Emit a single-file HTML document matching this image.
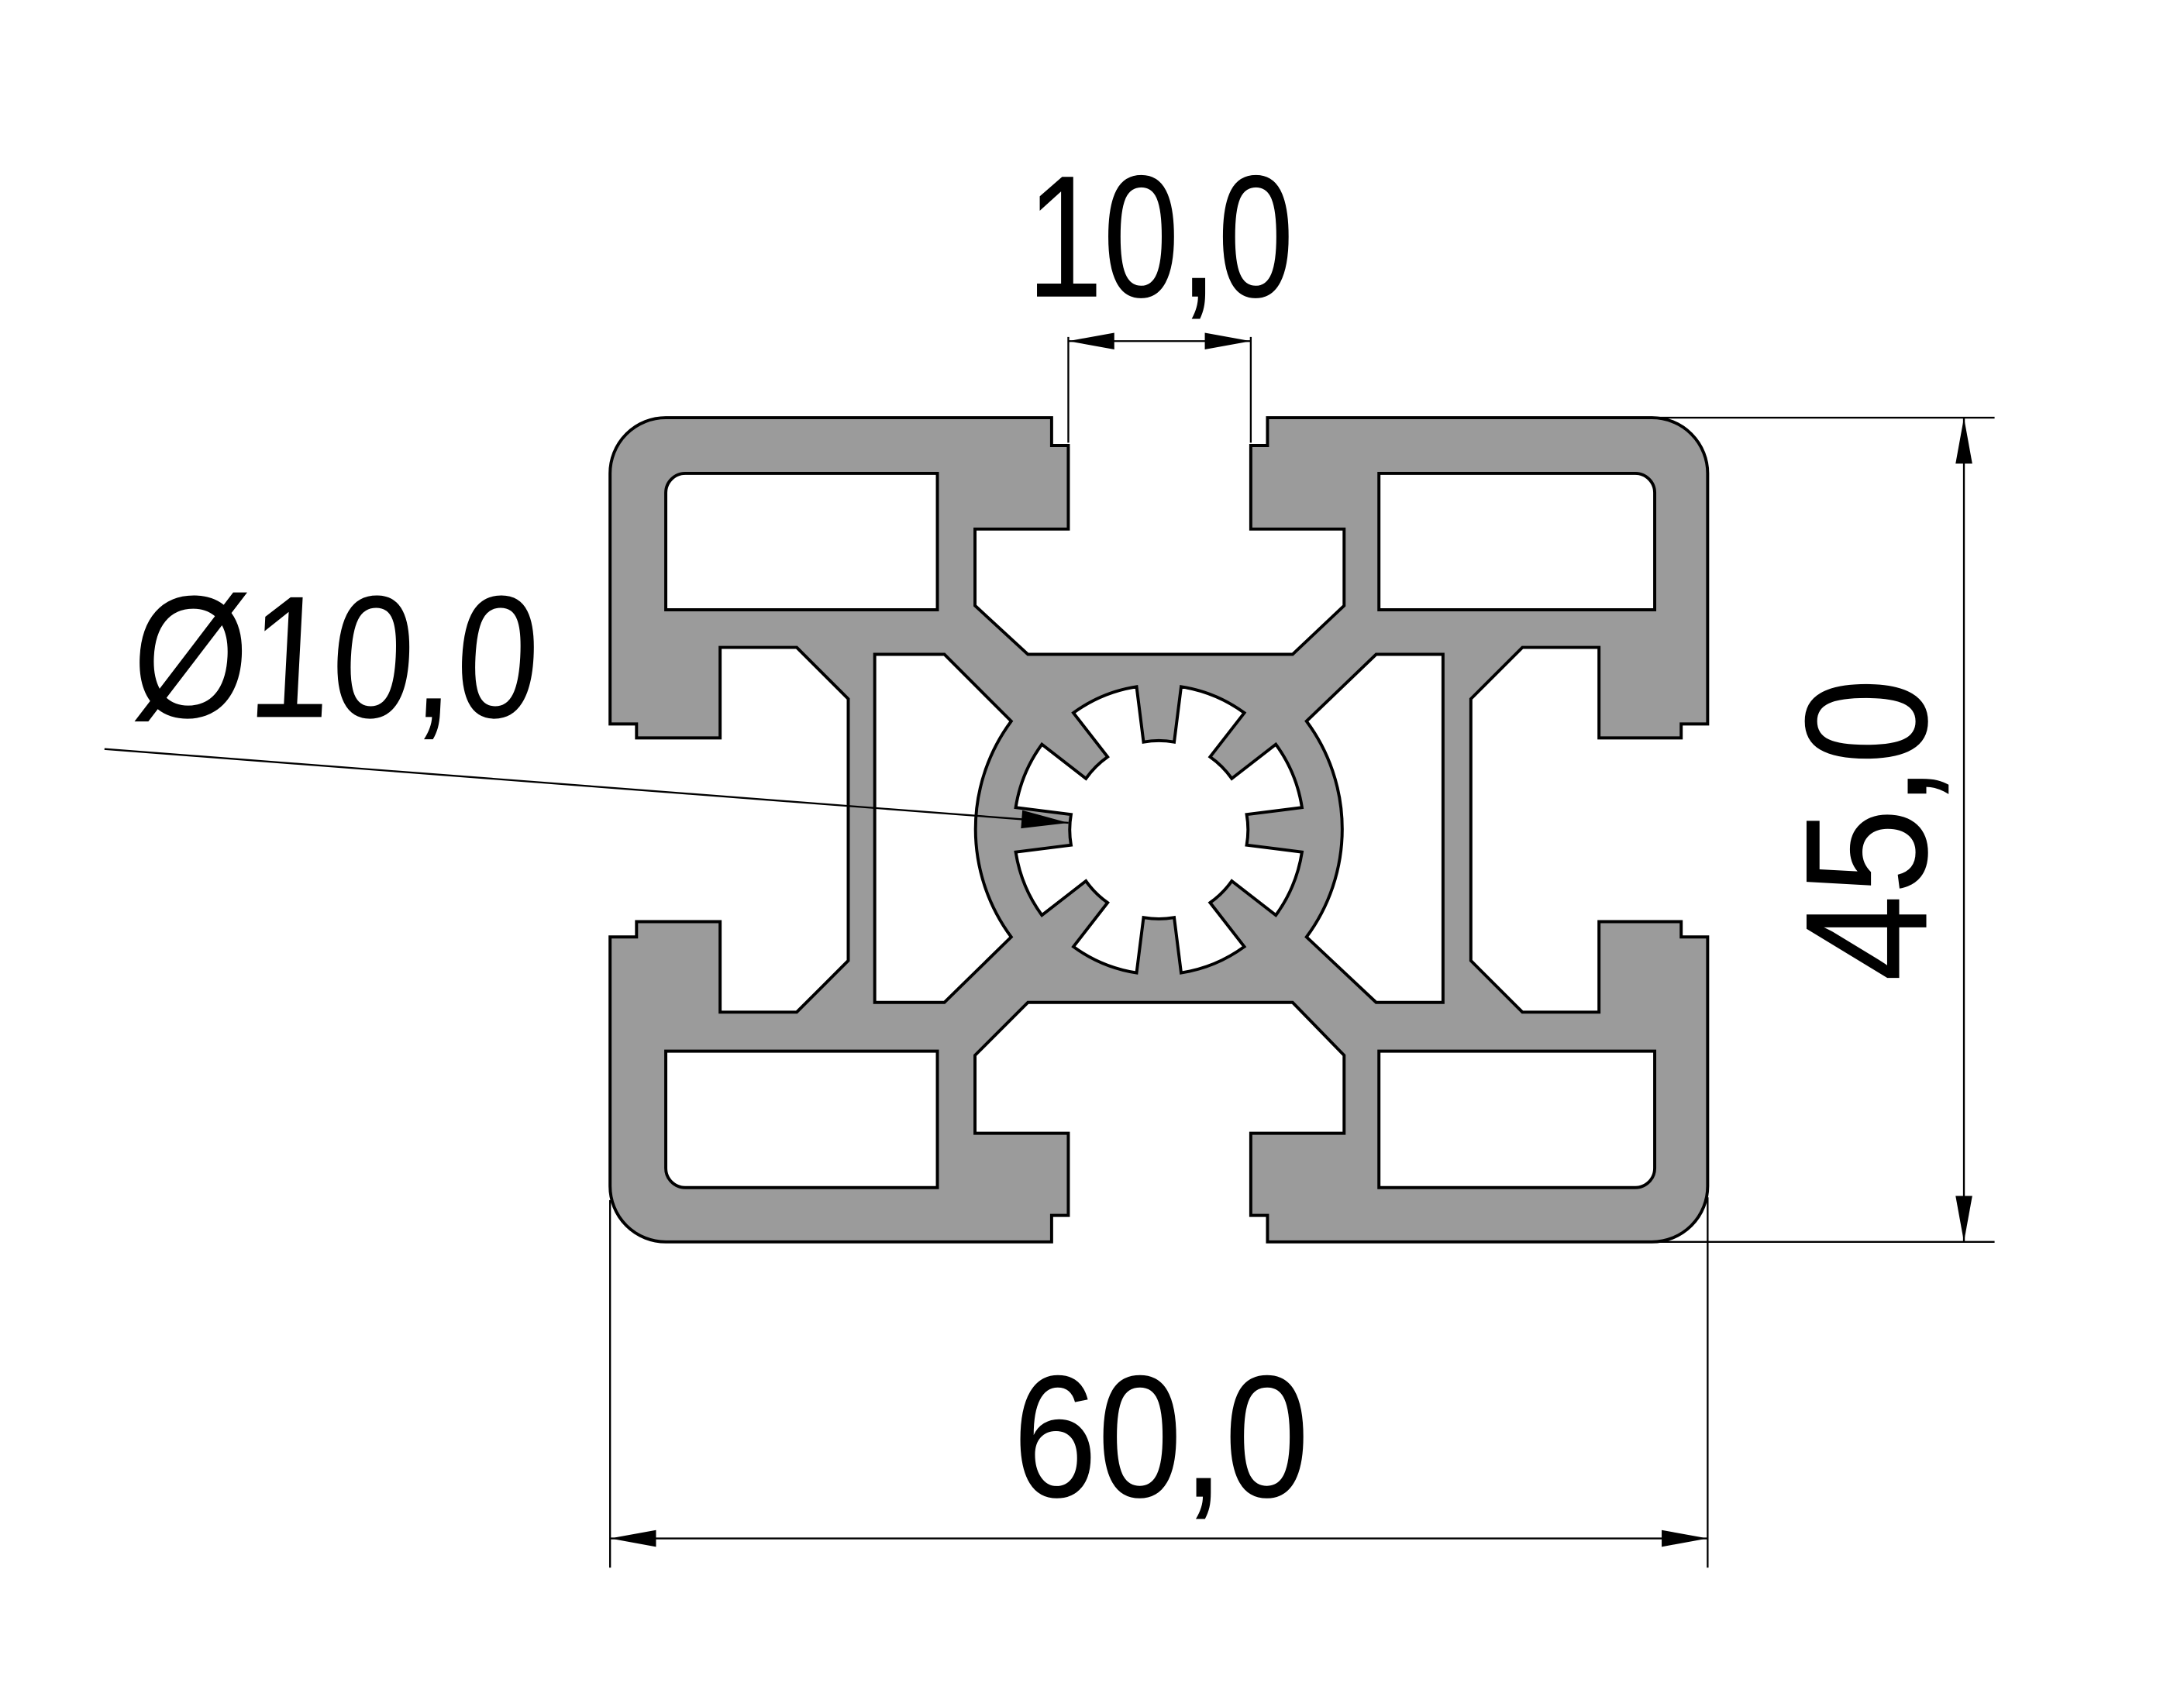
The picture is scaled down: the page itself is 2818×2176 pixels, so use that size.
<!DOCTYPE html>
<html><head><meta charset="utf-8"><style>
html,body{margin:0;padding:0;background:#fff;}
svg{display:block}
text{font-family:"Liberation Sans",sans-serif;fill:#000;}
</style></head><body>
<svg width="2818" height="2176" viewBox="0 0 1568 1211" preserveAspectRatio="none" xmlns="http://www.w3.org/2000/svg">
<g stroke="#000" stroke-width="2.2" stroke-linejoin="miter">
<path fill="#9b9b9b" d="M478,300 L755,300 L755,320 L767,320 L767,380 L700,380 L700,435 L738,470 L928,470 L965,435 L965,380 L898,380 L898,320 L910,320 L910,300 L1186,300 A40,40 0 0 1 1226,340 L1226,520 L1207,520 L1207,530 L1148,530 L1148,465 L1093,465 L1056,502 L1056,690 L1093,727 L1148,727 L1148,662 L1207,662 L1207,673 L1226,673 L1226,852 A40,40 0 0 1 1186,892 L910,892 L910,873 L898,873 L898,814 L965,814 L965,758 L928,720 L738,720 L700,758 L700,814 L767,814 L767,873 L755,873 L755,892 L478,892 A40,40 0 0 1 438,852 L438,673 L457,673 L457,662 L517,662 L517,727 L572,727 L609,690 L609,502 L572,465 L517,465 L517,530 L457,530 L457,520 L438,520 L438,340 A40,40 0 0 1 478,300 Z"/>
<path fill="#fff" d="M492,340 L673,340 L673,438 L478,438 L478,354 A14,14 0 0 1 492,340 Z"/>
<path fill="#fff" d="M990,340 L1174,340 A14,14 0 0 1 1188,354 L1188,438 L990,438 Z"/>
<path fill="#fff" d="M478,755 L673,755 L673,853 L492,853 A14,14 0 0 1 478,839 Z"/>
<path fill="#fff" d="M990,755 L1188,755 L1188,839 A14,14 0 0 1 1174,853 L990,853 Z"/>
<path fill="#fff" d="M628,470 L678,470 L726,518 A130,130 0 0 0 726,673 L678,720 L628,720 Z"/>
<path fill="#fff" d="M1036,470 L988,470 L938,518 A130,130 0 0 1 938,673 L988,720 L1036,720 Z"/>
<path id="star" fill="#fff" d=""/>
</g>
<g stroke="#000" stroke-width="1.3" fill="none">
<line x1="767" y1="242" x2="767" y2="318"/>
<line x1="898" y1="242" x2="898" y2="318"/>
<line x1="767" y1="245" x2="898" y2="245"/>
<line x1="438" y1="862" x2="438" y2="1126"/>
<line x1="1226" y1="860" x2="1226" y2="1126"/>
<line x1="438" y1="1105" x2="1226" y2="1105"/>
<line x1="1186" y1="300" x2="1432" y2="300"/>
<line x1="1190" y1="892" x2="1432" y2="892"/>
<line x1="1410" y1="300" x2="1410" y2="892"/>
<line x1="75" y1="538" x2="767" y2="591"/>
</g>
<g fill="#000">
<polygon points="767,245 800,239 800,251"/>
<polygon points="898,245 865,239 865,251"/>
<polygon points="438,1105 471,1099 471,1111"/>
<polygon points="1226,1105 1193,1099 1193,1111"/>
<polygon points="1410,300 1404,333 1416,333"/>
<polygon points="1410,892 1404,859 1416,859"/>
<polygon points="767,591 734,582 733,595"/>
</g>
<text x="737" y="213" font-size="125" textLength="192" lengthAdjust="spacingAndGlyphs">10,0</text>
<text x="727" y="1075" font-size="125" textLength="213" lengthAdjust="spacingAndGlyphs">60,0</text>
<text x="93" y="515" font-size="125" textLength="292" lengthAdjust="spacingAndGlyphs" transform="skewX(-3) translate(27,0)">Ø10,0</text>
<text font-size="125" textLength="218" lengthAdjust="spacingAndGlyphs" transform="translate(1383,705) rotate(-90)">45,0</text>
</svg>
<script>
(function(){
var cx=832,cy=596,ro=104,ri=64,ao=Math.asin(16/ro),ai=Math.asin(11/ri),d="";
function p(r,a){return (cx+r*Math.cos(a)).toFixed(2)+","+(cy+r*Math.sin(a)).toFixed(2);}
for(var k=0;k<8;k++){
var t=k*Math.PI/4;
d+=(k==0?"M":"L")+p(ro,t-ao)+" L"+p(ri,t-ai)+" A"+ri+","+ri+" 0 0 1 "+p(ri,t+ai)+" L"+p(ro,t+ao)+" A"+ro+","+ro+" 0 0 1 "+p(ro,t+Math.PI/4-ao)+" ";
}
document.getElementById("star").setAttribute("d",d+"Z");
})();
</script>
</body></html>
